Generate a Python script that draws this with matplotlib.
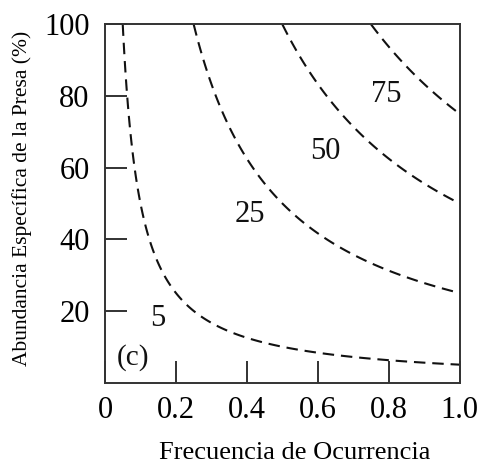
import numpy as np
import matplotlib
matplotlib.use("Agg")
import matplotlib.pyplot as plt

# Data
levels = [5, 25, 50, 75]                 # isoline values (frequency x abundance)
level_labels = ["5", "25", "50", "75"]
label_x = [0.149, 0.408, 0.62, 0.794]
label_y = [18, 46.8, 64.4, 80.3]
xticks = [0, 0.2, 0.4, 0.6, 0.8, 1.0]
xticklabels = ["0", "0.2", "0.4", "0.6", "0.8", "1.0"]
yticks = [20, 40, 60, 80, 100]
yticklabels = ["20", "40", "60", "80", "100"]

plt.rcParams['font.family'] = ['Liberation Serif', 'DejaVu Serif']
plt.rcParams['lines.dashed_pattern'] = [5.5, 3.3]

fig = plt.figure(figsize=(4.83, 4.70), dpi=100)
ax = fig.add_axes([0.2174, 0.186, 0.7346, 0.762])

fx = np.linspace(0.001, 1.0, 600)
ay = np.linspace(0.01, 100.0, 600)
X, Y = np.meshgrid(fx, ay)
Z = X * Y
ax.contour(X, Y, Z, levels=levels, colors='#111111', linestyles='dashed', linewidths=1.5)

for t, lx, ly in zip(level_labels, label_x, label_y):
    ax.text(lx, ly, t, fontsize=22, ha='center', va='center', color='#111111')
ax.text(0.079, 7.1, "(c)", fontsize=21, ha='center', va='center', color='#111111')

ax.set_xlim(0, 1.0)
ax.set_ylim(0, 100)
ax.set_xticks(xticks)
ax.set_xticklabels(xticklabels, fontsize=22)
ax.set_yticks(yticks)
ax.set_yticklabels(yticklabels, fontsize=22)
ax.tick_params(direction='in', length=16, width=1.3, color='#222222')
ax.tick_params(axis='y', pad=11)
ax.tick_params(axis='x', pad=10)
for s in ax.spines.values():
    s.set_linewidth(1.4)
    s.set_color('#333333')

ax.set_xlabel("Frecuencia de Ocurrencia", fontsize=19)
ax.xaxis.set_label_coords(0.535, -0.165)
ax.set_ylabel("Abundancia Específica de la Presa (%)", fontsize=15.5)
ax.yaxis.set_label_coords(-0.205, 0.515)

fig.savefig("out.png", dpi=100)
